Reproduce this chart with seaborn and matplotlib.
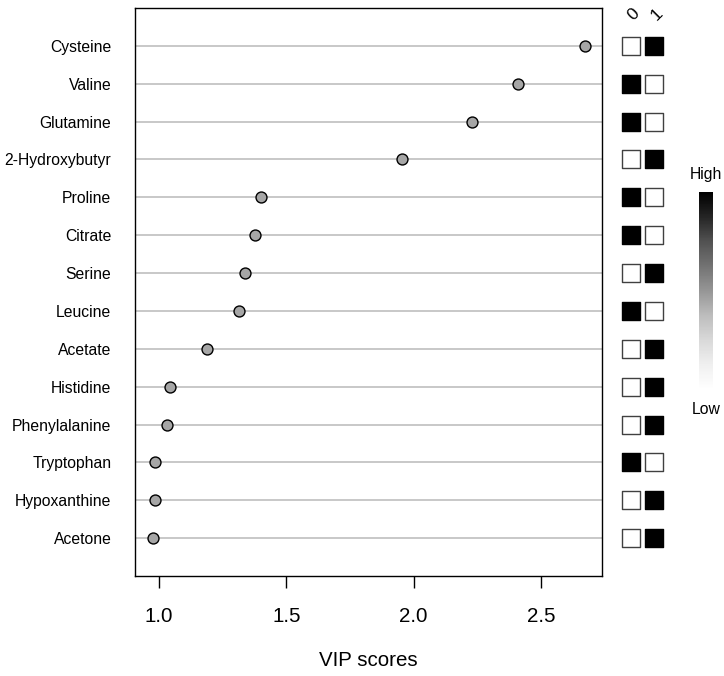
import matplotlib
matplotlib.use("Agg")
import matplotlib.pyplot as plt
import matplotlib.cm as cm
import matplotlib.colors as mcolors
import numpy as np
import pandas as pd
import seaborn as sns

# VIP scores, top to bottom
features = ['Cysteine', 'Valine', 'Glutamine', '2-Hydroxybutyr', 'Proline', 'Citrate',
            'Serine', 'Leucine', 'Acetate', 'Histidine', 'Phenylalanine', 'Tryptophan',
            'Hypoxanthine', 'Acetone']
vip = [2.672, 2.41, 2.229, 1.954, 1.40, 1.377, 1.338, 1.314, 1.188, 1.043, 1.031, 0.984,
       0.984, 0.976]

# relative concentration per group (1 = high, 0 = low)
groups = ['0', '1']
group0 = [0, 1, 1, 0, 1, 1, 0, 1, 0, 0, 0, 1, 0, 0]
group1 = [1, 0, 0, 1, 0, 0, 1, 0, 1, 1, 1, 0, 1, 1]

sns.set_theme(style='white')
plt.rcParams['font.family'] = ['Liberation Sans', 'DejaVu Sans']
plt.rcParams['text.color'] = 'black'
plt.rcParams['xtick.color'] = 'black'
plt.rcParams['ytick.color'] = 'black'
plt.rcParams['axes.labelcolor'] = 'black'

W, H = 724, 676
fig = plt.figure(figsize=(W / 100, H / 100), dpi=100)


def px_axes(x0, y0, x1, y1):
    """ axes from pixel box (top-left origin) """
    return fig.add_axes([x0 / W, 1 - y1 / H, (x1 - x0) / W, (y1 - y0) / H])


n = len(features)
df = pd.DataFrame({'feature': features, 'vip': vip, 'row': np.arange(1, n + 1)})

# main dot chart
ax = px_axes(135, 8, 602, 576)
for r in df['row']:
    ax.axhline(r, color='#c4c4c4', lw=1.3, zorder=0)
sns.scatterplot(data=df, x='vip', y='row', ax=ax, s=62, color='#a6a6a6',
                edgecolor='black', linewidth=1.0, zorder=3, legend=False)
ax.set_ylim(n + 1, 0)
ax.set_xlim(0.906, 2.74)
ax.set_yticks(df['row'])
ax.set_yticklabels(features, fontsize=11.3)
ax.set_xticks([1.0, 1.5, 2.0, 2.5])
ax.set_xticklabels(['1.0', '1.5', '2.0', '2.5'], fontsize=14.8)
ax.tick_params(axis='y', length=0, pad=17)
ax.tick_params(axis='x', direction='out', length=8.6, width=1, color='black',
               pad=14, bottom=True)
ax.set_xlabel('VIP scores', fontsize=14.8, labelpad=18)
ax.set_ylabel('')
for sp in ax.spines.values():
    sp.set_color('black')
    sp.set_linewidth(1.0)

# group indicator boxes
hm = pd.DataFrame({
    'col': np.concatenate([np.full(n, 0.5), np.full(n, 1.5)]),
    'row': np.concatenate([df['row'], df['row']]),
    'level': group0 + group1,
})
ax2 = px_axes(620, 8, 665, 576)
sns.scatterplot(data=hm[hm['level'] == 0], x='col', y='row', ax=ax2, marker='s', s=185,
                color='white', edgecolor='#404040', linewidth=1.0, legend=False)
sns.scatterplot(data=hm[hm['level'] == 1], x='col', y='row', ax=ax2, marker='s', s=185,
                color='black', edgecolor='black', linewidth=1.0, legend=False)
ax2.set_xlim(0, 2)
ax2.set_ylim(n + 1, 0)
ax2.axis('off')
for i, g in enumerate(groups):
    fig.text((634 + 23 * i) / W, 1 - 14 / H, g, rotation=45,
             ha='center', va='center', fontsize=12.5)

# colour key
ax3 = px_axes(699, 192, 713, 390)
cb = fig.colorbar(cm.ScalarMappable(norm=mcolors.Normalize(0, 1), cmap='Greys'), cax=ax3)
cb.outline.set_visible(False)
cb.set_ticks([])
fig.text(706 / W, 1 - 174 / H, 'High', ha='center', va='center', fontsize=11.3)
fig.text(706 / W, 1 - 409 / H, 'Low', ha='center', va='center', fontsize=11.3)

fig.savefig('out.png', dpi=100, facecolor='white')
